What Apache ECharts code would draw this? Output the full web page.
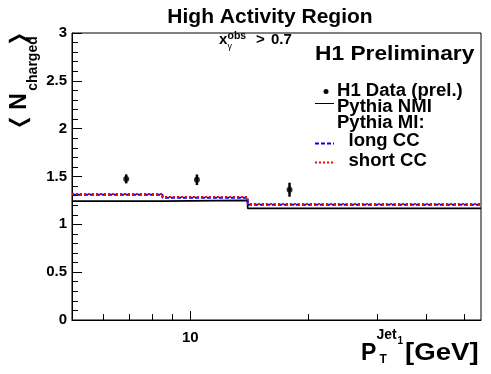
<!DOCTYPE html>
<html>
<head>
<meta charset="utf-8">
<script src="https://cdn.jsdelivr.net/npm/echarts/dist/echarts.min.js"></script>
<style>
html,body{margin:0;padding:0;background:#fff;}
#chart{width:491px;height:374px;}
</style>
</head>
<body>
<div id="chart"></div>
<script>
// ---- data ----
var binEdges = [5, 8.5, 14, 55];
var pythiaNMI = [1.243, 1.250, 1.167];
var pythiaLongCC = [1.310, 1.278, 1.205];
var pythiaShortCC = [1.318, 1.286, 1.212];
var dataX = [6.87, 10.4, 17.9];
var dataY = [1.475, 1.466, 1.362];
var dataErr = [0.047, 0.055, 0.073];
var xMajorTicks = [10];
var xMinorTicks = [6, 7, 8, 9, 20, 30, 40, 50];
var xLabels = [10];

var FONT = '"Liberation Sans", Arial, Helvetica, sans-serif';

function stepData(edges, vals) {
  var out = [];
  for (var i = 0; i < vals.length; i++) {
    out.push([edges[i], vals[i]]);
    out.push([edges[i + 1], vals[i]]);
  }
  return out;
}

function txt(text, x, baseline, size, opts) {
  opts = opts || {};
  return {
    type: 'text',
    x: x,
    y: baseline - 0.35 * size,
    scaleX: opts.scaleX || 1,
    rotation: opts.rotation || 0,
    silent: true,
    style: {
      text: text,
      x: 0, y: 0,
      fill: '#000',
      font: (opts.weight || 'bold') + ' ' + size + 'px ' + (opts.family || FONT),
      align: opts.align || 'left',
      verticalAlign: 'middle'
    }
  };
}

function rtxt(text, cx, cy, size, opts) {
  opts = opts || {};
  return {
    type: 'text',
    x: cx, y: cy,
    rotation: Math.PI / 2,
    scaleX: opts.scaleX || 1,
    scaleY: opts.scaleY || 1,
    silent: true,
    style: {
      text: text, x: 0, y: 0, fill: '#000',
      font: (opts.weight || 'bold') + ' ' + size + 'px ' + (opts.family || FONT),
      align: 'center', verticalAlign: 'middle'
    }
  };
}

var chart = echarts.init(document.getElementById('chart'), null, {renderer: 'canvas'});

var xAxisBase = {
  type: 'log', logBase: 10, min: 5, max: 55, position: 'bottom',
  splitLine: {show: false}, minorSplitLine: {show: false}
};

var option = {
  animation: false,
  backgroundColor: '#fff',
  grid: {left: 72, right: 10, top: 33, bottom: 54, show: true, borderColor: '#000', borderWidth: 1, backgroundColor: 'transparent'},
  xAxis: [
    Object.assign({}, xAxisBase, {
      axisLine: {show: true, lineStyle: {color: '#000', width: 1}},
      axisTick: {show: true, inside: true, length: 9, customValues: xMajorTicks, lineStyle: {color: '#000'}},
      axisLabel: {show: true, customValues: xLabels, color: '#000', fontSize: 15, fontWeight: 'bold', fontFamily: FONT, margin: 10,
        formatter: function (v) { return String(Math.round(v)); }}
    }),
    Object.assign({}, xAxisBase, {
      axisLine: {show: false},
      axisTick: {show: true, inside: true, length: 6, customValues: xMinorTicks, lineStyle: {color: '#000'}},
      axisLabel: {show: false}
    })
  ],
  yAxis: {
    type: 'value', min: 0, max: 3, interval: 0.5,
    axisLine: {show: true, lineStyle: {color: '#000', width: 1}},
    axisTick: {show: true, inside: true, length: 10, lineStyle: {color: '#000'}},
    minorTick: {show: true, splitNumber: 5, length: 6, lineStyle: {color: '#000'}},
    axisLabel: {color: '#000', fontSize: 15, fontWeight: 'bold', fontFamily: FONT, margin: 5},
    splitLine: {show: false}
  },
  series: [
    {
      name: 'Pythia NMI', type: 'line', xAxisIndex: 0, data: stepData(binEdges, pythiaNMI),
      symbol: 'none', lineStyle: {color: '#000', width: 1.6}, z: 2
    },
    {
      name: 'long CC', type: 'line', xAxisIndex: 0, data: stepData(binEdges, pythiaLongCC),
      symbol: 'none', lineStyle: {color: '#0000ff', width: 2, type: [4, 2]}, z: 3
    },
    {
      name: 'short CC', type: 'line', xAxisIndex: 0, data: stepData(binEdges, pythiaShortCC),
      symbol: 'none', lineStyle: {color: '#ff0000', width: 2, type: [2, 2]}, z: 4
    },
    {
      name: 'errors', type: 'custom', xAxisIndex: 0,
      data: dataX.map(function (x, i) { return [x, dataY[i] - dataErr[i], dataY[i] + dataErr[i]]; }),
      renderItem: function (params, api) {
        var lo = api.coord([api.value(0), api.value(1)]);
        var hi = api.coord([api.value(0), api.value(2)]);
        return {type: 'line', shape: {x1: lo[0], y1: lo[1], x2: hi[0], y2: hi[1]},
          style: {stroke: '#000', lineWidth: 2.5}};
      },
      z: 5
    },
    {
      name: 'H1 Data (prel.)', type: 'scatter', xAxisIndex: 0,
      data: dataX.map(function (x, i) { return [x, dataY[i]]; }),
      symbol: 'circle', symbolSize: 6, itemStyle: {color: '#000'}, z: 6
    }
  ],
  graphic: [
    txt('High Activity Region', 270, 24, 20, {align: 'center', scaleX: 1.05}),
    // x_gamma^obs > 0.7
    txt('x', 219, 45, 15),
    txt('obs', 227.5, 39.5, 10.5),
    txt('γ', 227.5, 49.5, 9, {weight: 'normal'}),
    txt('>', 256, 45, 15),
    txt('0.7', 271, 45, 15),
    // legend
    txt('H1 Preliminary', 315, 62, 20.5, {scaleX: 1.11}),
    {type: 'circle', silent: true, shape: {cx: 326, cy: 91.5, r: 2.5}, style: {fill: '#000'}},
    txt('H1 Data (prel.)', 337, 97, 17.5, {scaleX: 1.06}),
    {type: 'line', silent: true, shape: {x1: 315, y1: 103.5, x2: 334, y2: 103.5}, style: {stroke: '#000', lineWidth: 1}},
    txt('Pythia NMI', 337, 113.5, 17.5, {scaleX: 1.06}),
    txt('Pythia MI:', 337, 129.5, 17.5, {scaleX: 1.06}),
    {type: 'line', silent: true, shape: {x1: 315, y1: 143.5, x2: 334, y2: 143.5}, style: {stroke: '#0000ff', lineWidth: 2, lineDash: [4, 2]}},
    txt('long CC', 348.5, 147, 17.5, {scaleX: 1.06}),
    {type: 'line', silent: true, shape: {x1: 315, y1: 162.5, x2: 334, y2: 162.5}, style: {stroke: '#ff0000', lineWidth: 2, lineDash: [2, 2]}},
    txt('short CC', 348.5, 167, 17.5, {scaleX: 1.06}),
    // x axis title
    txt('P', 361, 361.7, 23),
    txt('T', 379.5, 363.5, 12),
    txt('Jet', 376.5, 340, 14),
    txt('1', 397.5, 345, 10),
    txt('[GeV]', 405, 361.7, 23, {scaleX: 1.2}),
    // y axis title (rotated)
    rtxt('⟨', 21, 122.5, 24, {weight: 'normal', family: '"DejaVu Sans", sans-serif', scaleX: 1.7}),
    rtxt('N', 20, 101.5, 23),
    rtxt('charged', 33.5, 63.5, 14),
    rtxt('⟩', 21, 38.5, 24, {weight: 'normal', family: '"DejaVu Sans", sans-serif', scaleX: 1.7})
  ]
};
chart.setOption(option);
</script>
</body>
</html>
